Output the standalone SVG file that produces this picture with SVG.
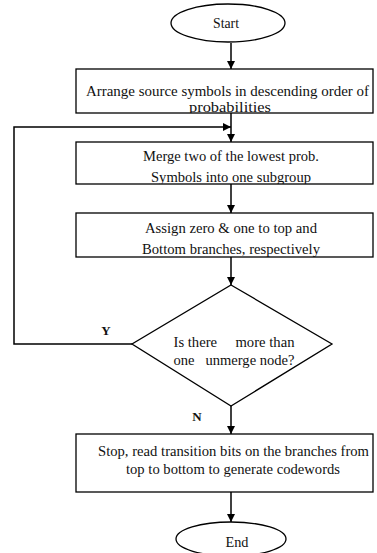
<svg xmlns="http://www.w3.org/2000/svg" width="377" height="553" viewBox="0 0 377 553">
<style>
.n{fill:#fff;stroke:#000;stroke-width:1.3}
.c{fill:none;stroke:#000;stroke-width:1.5}
text{font-family:"Liberation Serif","Times New Roman",serif;font-size:15px;fill:#111;text-anchor:middle}
.s{font-size:14px}
.lb{font-weight:bold;font-size:13px}
</style>
<defs>
<marker id="ah" viewBox="0 0 10 10" refX="10" refY="5" markerWidth="8" markerHeight="8" markerUnits="userSpaceOnUse" orient="auto">
<path d="M0,0L10,5L0,10z" fill="#000"/>
</marker>
<clipPath id="c1"><rect x="76" y="69" width="297" height="44"/></clipPath>
<clipPath id="c2"><rect x="76" y="142" width="297" height="42"/></clipPath>
<clipPath id="c3"><rect x="76" y="213" width="297" height="44"/></clipPath>
</defs>
<rect width="377" height="553" fill="#fff"/>
<g id="connectors">
<line class="c" x1="231" y1="43" x2="231" y2="69" marker-end="url(#ah)"/>
<line class="c" x1="231" y1="113" x2="231" y2="142" marker-end="url(#ah)"/>
<polyline class="c" points="132,344 14,344 14,127 231,127" marker-end="url(#ah)"/>
<line class="c" x1="231" y1="184" x2="231" y2="213" marker-end="url(#ah)"/>
<line class="c" x1="231" y1="257" x2="231" y2="285" marker-end="url(#ah)"/>
<line class="c" x1="231" y1="406" x2="231" y2="434" marker-end="url(#ah)"/>
<line class="c" x1="231" y1="492" x2="231" y2="522" marker-end="url(#ah)"/>
<text class="lb" x="106" y="335">Y</text>
<text class="lb" x="197" y="421">N</text>
</g>
<g id="start">
<ellipse class="n" cx="228" cy="23" rx="57" ry="19"/>
<text x="226" y="28" textLength="26" lengthAdjust="spacingAndGlyphs">Start</text>
</g>
<g id="arrange">
<rect class="n" x="76" y="69" width="297" height="44"/>
<g clip-path="url(#c1)">
<text class="s" x="227.5" y="96" textLength="283" lengthAdjust="spacingAndGlyphs">Arrange source symbols in descending order of</text>
<text class="s" x="230" y="112" textLength="82" lengthAdjust="spacingAndGlyphs">probabilities</text>
</g>
</g>
<g id="merge">
<rect class="n" x="76" y="142" width="297" height="42"/>
<g clip-path="url(#c2)">
<text x="231" y="161" textLength="176" lengthAdjust="spacingAndGlyphs">Merge two of the lowest prob.</text>
<text x="231" y="182" textLength="160" lengthAdjust="spacingAndGlyphs">Symbols into one subgroup</text>
</g>
</g>
<g id="assign">
<rect class="n" x="76" y="213" width="297" height="44"/>
<g clip-path="url(#c3)">
<text x="231" y="233" textLength="172" lengthAdjust="spacingAndGlyphs">Assign zero &amp; one to top and</text>
<text x="231" y="254" textLength="178" lengthAdjust="spacingAndGlyphs">Bottom branches, respectively</text>
</g>
</g>
<g id="decision">
<polygon class="n" points="231,285 332,344 231,406 132,344"/>
<text x="234" y="347" xml:space="preserve" textLength="121" lengthAdjust="spacingAndGlyphs">Is there     more than</text>
<text x="234" y="365" xml:space="preserve" textLength="121" lengthAdjust="spacingAndGlyphs">one   unmerge node?</text>
</g>
<g id="stop">
<rect class="n" x="76" y="434" width="297" height="58"/>
<text x="233.5" y="456" textLength="271" lengthAdjust="spacingAndGlyphs">Stop, read transition bits on the branches from</text>
<text x="233" y="474" textLength="214" lengthAdjust="spacingAndGlyphs">top to bottom to generate codewords</text>
</g>
<g id="end">
<ellipse class="n" cx="231" cy="539" rx="55" ry="17"/>
<text x="237" y="547" textLength="23" lengthAdjust="spacingAndGlyphs">End</text>
</g>
</svg>
